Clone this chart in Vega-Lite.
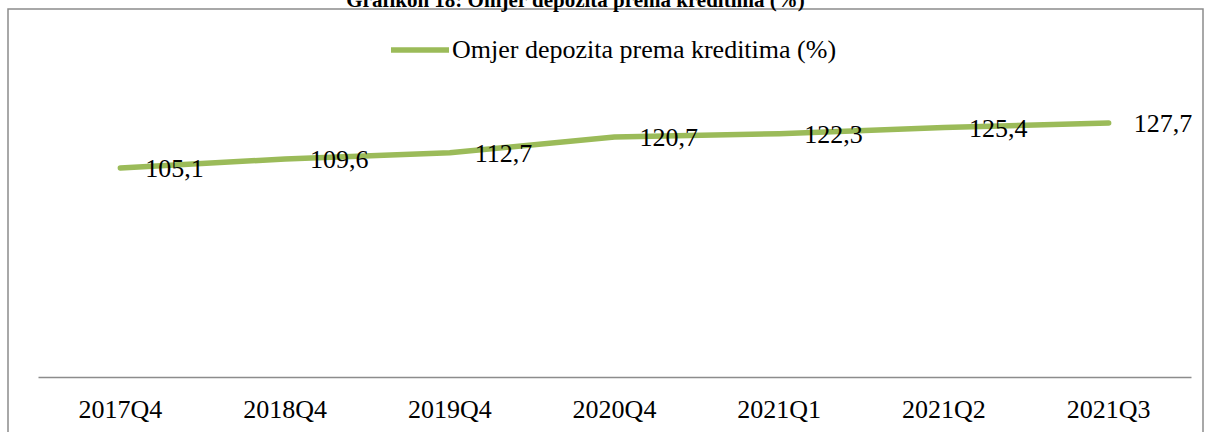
{
  "$schema": "https://vega.github.io/schema/vega-lite/v6.json",
  "autosize": {"type": "none"},
  "width": 1195,
  "height": 424,
  "padding": {"left": 8, "top": 9, "right": 5, "bottom": 0},
  "background": "white",
  "title": {
    "text": "Grafikon 18: Omjer depozita prema kreditima (%)",
    "font": "Liberation Serif",
    "fontSize": 21,
    "fontWeight": "bold",
    "color": "black",
    "anchor": "middle",
    "frame": "group",
    "baseline": "alphabetic",
    "offset": 3,
    "dy": 22,
    "dx": -30
  },
  "config": {
    "locale": {"number": {"decimal": ",", "thousands": ".", "grouping": [3], "currency": ["", " €"]}},
    "view": {"stroke": "#8c8c8c", "strokeWidth": 1.5}
  },
  "data": {
    "values": [
      {"q": "2017Q4", "v": 105.1, "s": "Omjer depozita prema kreditima (%)"},
      {"q": "2018Q4", "v": 109.6, "s": "Omjer depozita prema kreditima (%)"},
      {"q": "2019Q4", "v": 112.7, "s": "Omjer depozita prema kreditima (%)"},
      {"q": "2020Q4", "v": 120.7, "s": "Omjer depozita prema kreditima (%)"},
      {"q": "2021Q1", "v": 122.3, "s": "Omjer depozita prema kreditima (%)"},
      {"q": "2021Q2", "v": 125.4, "s": "Omjer depozita prema kreditima (%)"},
      {"q": "2021Q3", "v": 127.7, "s": "Omjer depozita prema kreditima (%)"}
    ]
  },
  "encoding": {
    "x": {
      "field": "q",
      "type": "nominal",
      "sort": null,
      "scale": {"type": "band", "range": [30, 1183], "paddingInner": 0, "paddingOuter": 0},
      "axis": {
        "title": null,
        "labelAngle": 0,
        "labelFont": "Liberation Serif",
        "labelFontSize": 26,
        "labelColor": "black",
        "labelPadding": 19,
        "ticks": false,
        "domain": true,
        "domainColor": "#8c8c8c",
        "domainWidth": 1.5,
        "offset": -56,
        "grid": false
      }
    },
    "y": {
      "field": "v",
      "type": "quantitative",
      "scale": {"domain": [0, 180], "range": [368, 10]},
      "axis": null
    }
  },
  "layer": [
    {
      "mark": {"type": "line", "strokeWidth": 5.5, "strokeCap": "round", "strokeJoin": "round"},
      "encoding": {
        "color": {
          "field": "s",
          "type": "nominal",
          "scale": {"range": ["#9BBB59"]},
          "legend": {
            "title": null,
            "orient": "none",
            "legendX": 380,
            "legendY": 9,
            "direction": "horizontal",
            "symbolType": "stroke",
            "symbolSize": 3364,
            "symbolStrokeWidth": 5.5,
            "labelFont": "Liberation Serif",
            "labelFontSize": 26,
            "labelColor": "black",
            "labelOffset": 0,
            "labelLimit": 600
          }
        }
      }
    },
    {
      "mark": {"type": "text", "align": "left", "baseline": "middle", "dx": 25, "dy": 1, "font": "Liberation Serif", "fontSize": 26, "color": "black"},
      "encoding": {
        "text": {"field": "v", "type": "quantitative", "format": ".1f"}
      }
    }
  ]
}
